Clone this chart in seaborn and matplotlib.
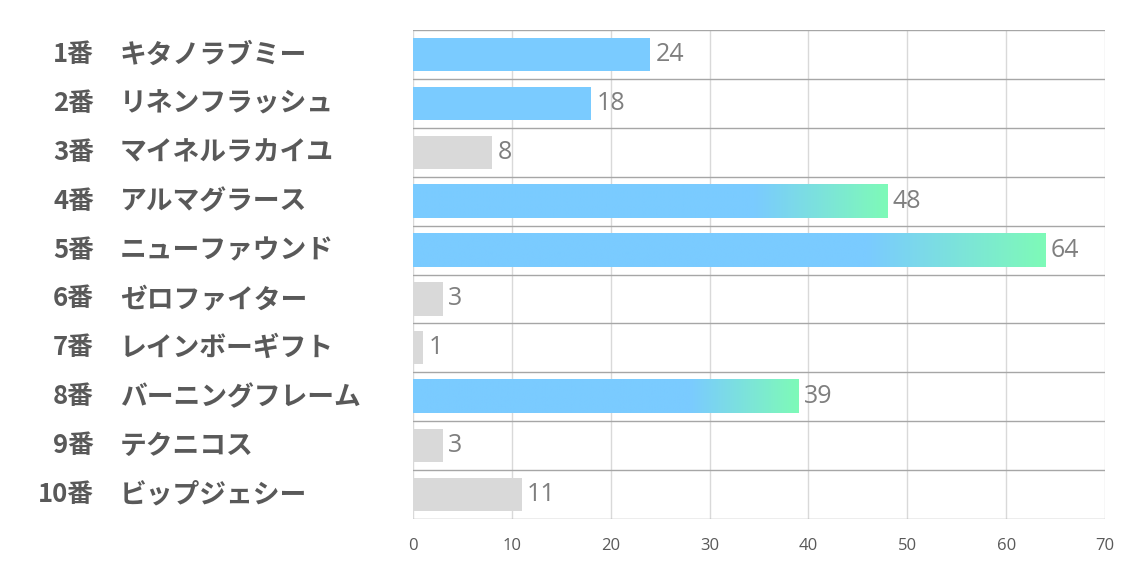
import numpy as np
import pandas as pd
import matplotlib
matplotlib.use("Agg")
import matplotlib.pyplot as plt
import matplotlib.transforms as mtransforms
from matplotlib.colors import LinearSegmentedColormap
import seaborn as sns

numbers = ["1番", "2番", "3番", "4番", "5番", "6番", "7番", "8番", "9番", "10番"]
names = ["キタノラブミー", "リネンフラッシュ", "マイネルラカイユ", "アルマグラース", "ニューファウンド",
         "ゼロファイター", "レインボーギフト", "バーニングフレーム", "テクニコス", "ビップジェシー"]
values = [24, 18, 8, 48, 64, 3, 1, 39, 3, 11]
kind = ["blue", "blue", "gray", "grad", "grad", "gray", "gray", "grad", "gray", "gray"]
x_ticks = [0, 10, 20, 30, 40, 50, 60, 70]

BLUE = "#7ACBFF"
GREEN = "#7EFAB8"
GRAY = "#D9D9D9"

sns.set_theme(style="white")
plt.rcParams["font.family"] = ["Noto Sans CJK JP", "DejaVu Sans"]

df = pd.DataFrame({"label": [f"{n} {m}" for n, m in zip(numbers, names)],
                   "value": values, "kind": kind})

fig = plt.figure(figsize=(11.34, 5.67), dpi=100)
ax = fig.add_axes([413 / 1134, 1 - 519 / 567, 692 / 1134, (519 - 30) / 567])

palette = {"blue": BLUE, "gray": GRAY, "grad": BLUE}
sns.barplot(data=df, x="value", y="label", hue="kind", palette=palette, dodge=False,
            legend=False, width=0.68, ax=ax, saturation=1, linewidth=0, orient="h")

ax.set_xlim(0, 70)
ax.set_ylim(len(values) - 0.5, -0.5)

cmap = LinearSegmentedColormap.from_list("g", [(0, BLUE), (0.72, BLUE), (1, GREEN)])
grad = np.linspace(0, 1, 512).reshape(1, -1)
for p in list(ax.patches):
    w = p.get_width()
    if w <= 0 and p.get_height() <= 0:
        continue
    yc = p.get_y() + p.get_height() / 2
    idx = int(round(yc))
    if 0 <= idx < len(values) and kind[idx] == "grad":
        x0, y0, h = p.get_x(), p.get_y(), p.get_height()
        ax.imshow(grad, cmap=cmap, aspect="auto", extent=(x0, x0 + w, y0 + h, y0),
                  zorder=p.get_zorder() + 0.1, interpolation="bilinear")
ax.set_xlim(0, 70)
ax.set_ylim(len(values) - 0.5, -0.5)
ax.set_aspect("auto")

for i, v in enumerate(values):
    ax.text(v + 0.55, i, str(v), va="center", ha="left", fontsize=18,
            color="#7F7F7F", family=["Open Sans", "DejaVu Sans"], zorder=5)

# grids
ax.set_xticks(x_ticks)
ax.xaxis.grid(True, color="#D9D9D9", linewidth=1)
ax.set_axisbelow(True)
ax.set_yticks(np.arange(-0.5, len(values), 1.0), minor=True)
ax.yaxis.grid(True, which="minor", color="#A6A6A6", linewidth=1)
ax.yaxis.grid(False, which="major")
ax.set_yticks([])
for s in ax.spines.values():
    s.set_visible(False)
ax.tick_params(axis="x", length=0, pad=14, labelsize=12, labelcolor="#595959")
for t in ax.get_xticklabels():
    t.set_family(["Open Sans", "DejaVu Sans"])
ax.set_xlabel("")
ax.set_ylabel("")

trans = mtransforms.blended_transform_factory(fig.transFigure, ax.transData)
for i, (n, m) in enumerate(zip(numbers, names)):
    ax.text(94 / 1134, i, n, transform=trans, ha="right", va="center", fontsize=18.5,
            fontweight="bold", color="#595959")
    ax.text(120 / 1134, i, m, transform=trans, ha="left", va="center", fontsize=19.3,
            fontweight="bold", color="#595959")

fig.savefig("out.png", dpi=100, facecolor="white")
